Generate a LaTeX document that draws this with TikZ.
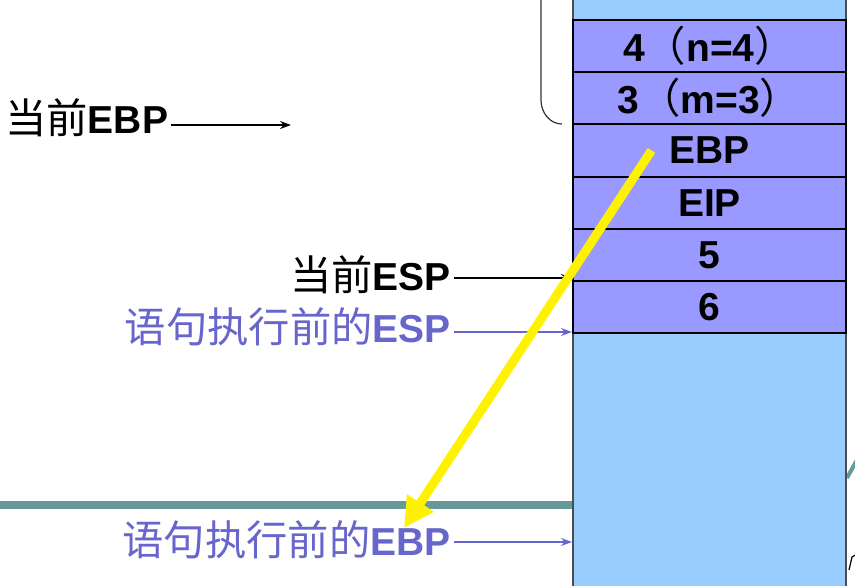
\documentclass[tikz,border=0pt]{standalone}
\usepackage{fontspec}
\setmainfont{Liberation Sans}
\newfontfamily\cjk[Scale=1.06]{Noto Sans CJK SC}
\usetikzlibrary{arrows.meta}
\definecolor{stackBlue}{HTML}{99CCFF}
\definecolor{slotPurple}{HTML}{9999FF}
\definecolor{noteBlue}{HTML}{6666CC}
\definecolor{lineTeal}{HTML}{669999}
\newcommand{\zh}[1]{{\cjk\mdseries #1}}
\newcommand{\drawSlot}[3]{
\node [slot] (#1) at (709.5,#2) {#3};
}
\tikzset{
slot/.style={draw,line width=1.2pt,fill=slotPurple,minimum width=273pt,minimum height=52pt,inner sep=0pt,font=\fontsize{39}{45}\selectfont\bfseries},
pointer/.style={inner xsep=3pt,inner ysep=0pt,font=\fontsize{39}{45}\selectfont\bfseries},
}
\begin{document}
\begin{tikzpicture}[x=1pt,y=-1pt,>={Stealth[length=11pt,width=8pt]}]
\useasboundingbox (0,0) rectangle (855,586);
\draw [line width=8pt,lineTeal] (-5,505) -- (574,505);
\draw [line width=4pt,lineTeal] (847,478) -- (858,458);
\draw [line width=1.2pt] (849,570) -- (852,557) -- (857,554);
\fill [stackBlue] (573,-5) rectangle (846,595);
\draw [line width=1.2pt,gray!60!black] (573,-5) -- (573,595);\draw [line width=1.2pt,gray!60!black] (846,-5) -- (846,595);
\drawSlot{argn}{46}{4\zh{（}n=4\zh{）}}
\drawSlot{argm}{98}{3\zh{（}m=3\zh{）}}
\drawSlot{oldebp}{150.5}{EBP}
\drawSlot{eip}{203}{EIP}
\drawSlot{loc5}{255}{5}
\drawSlot{loc6}{307}{6}
\draw [line width=1.2pt,gray!40!black] (541,-5) -- (541,100) to[out=-90,in=180] (562,124);
%
\node [pointer,anchor=base west] (ebpnow) at (2,133) {\zh{当前}EBP};
\node [pointer,anchor=base east] (espnow) at (454,290) {\zh{当前}ESP};
\node [pointer,anchor=base east,text=noteBlue] (espold) at (454,342) {\zh{语句执行前的}ESP};
\node [pointer,anchor=base east,text=noteBlue] (ebpold) at (454,555) {\zh{语句执行前的}EBP};
\coordinate (ebpmark) at (291,125);
\coordinate (espmark) at (572,278);
\coordinate (espoldmark) at (572,332);
\coordinate (ebpoldmark) at (572,542);
\draw [line width=1.3pt,->] (ebpnow.east |- ebpmark) -- (ebpmark);
\draw [line width=1.3pt,->] (espnow.east |- espmark) -- (espmark);
\draw [line width=1.3pt,noteBlue,->] (espold.east |- espoldmark) -- (espoldmark);
\draw [line width=1.3pt,noteBlue,->] (ebpold.east |- ebpoldmark) -- (ebpoldmark);
%
\coordinate (ebpfrom) at ([xshift=-58pt]oldebp.center);
\coordinate (ebpto) at (404,528);
\draw [line width=9pt,yellow,-{Triangle[length=30pt,width=30pt]}] (ebpfrom) -- (ebpto);
\end{tikzpicture}
\end{document}
